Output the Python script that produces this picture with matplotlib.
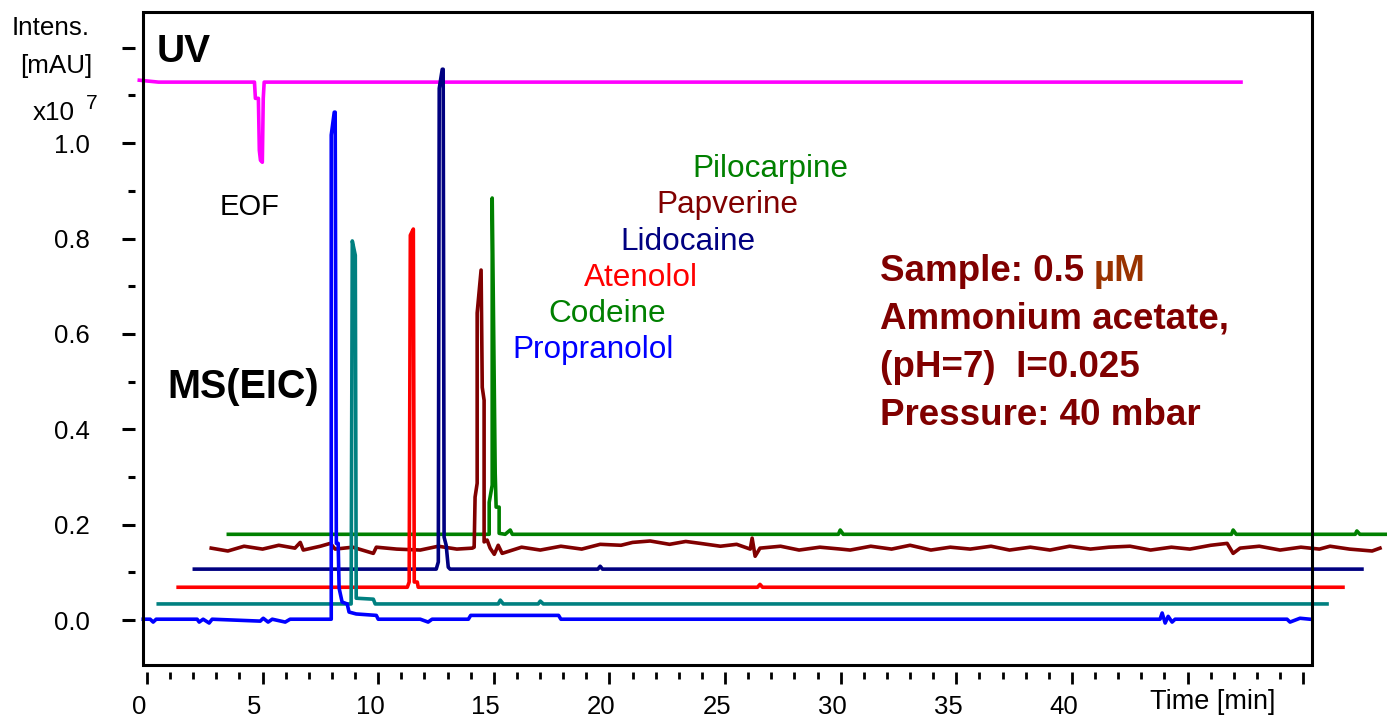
import matplotlib
matplotlib.use("Agg")
import matplotlib.pyplot as plt
from matplotlib.patches import Rectangle
from matplotlib.transforms import ScaledTranslation

W, H, DPI = 1387, 716, 100
plt.rcParams["font.family"] = ["Liberation Sans", "DejaVu Sans"]

# UV trace (intensity scaled to the MS axis, x10^7)
uv_t = [-0.33, 0.50, 4.65, 4.69, 4.82, 4.86, 4.91, 4.99, 5.03, 5.07, 47.31]
uv_i = [1.132, 1.128, 1.128, 1.094, 1.094, 0.985, 0.964, 0.960, 1.094, 1.128, 1.128]

# extracted ion chromatograms, drawn as a waterfall (time in min, intensity x10^7)
propranolol_t = [-0.16, 0.14, 0.27, 0.40, 2.17, 2.26, 2.43, 2.69, 2.82, 4.90, 5.03,
                 5.24, 5.42, 5.98, 6.19, 7.97, 7.97, 8.10, 8.14, 8.19, 8.27, 8.31,
                 8.44, 8.66, 8.74, 9.05, 9.92, 10.00, 11.82, 12.16, 12.33, 13.90,
                 14.00, 17.80, 17.90, 43.81, 43.90, 44.03, 44.16, 44.33, 44.46,
                 49.30, 49.43, 49.86, 50.29]
propranolol_i = [0.002, 0.002, -0.004, 0.002, 0.002, -0.004, 0.002, -0.006, 0.002,
                 -0.002, 0.004, -0.004, 0.002, -0.004, 0.002, 0.002, 1.017, 1.065,
                 1.065, 0.161, 0.161, 0.067, 0.038, 0.034, 0.017, 0.013, 0.010, 0.002,
                 0.002, -0.004, 0.002, 0.002, 0.010, 0.010, 0.002, 0.002, 0.015,
                 -0.006, 0.008, -0.004, 0.002, 0.002, -0.004, 0.004, 0.002]

codeine_t = [0.49, 8.80, 8.83, 8.88, 9.01, 9.05, 9.79, 9.87, 15.19, 15.28, 15.41,
             16.92, 17.01, 17.14, 51.03]
codeine_i = [0.034, 0.034, 0.034, 0.795, 0.765, 0.046, 0.044, 0.034, 0.034, 0.042, 0.034,
             0.034, 0.040, 0.034, 0.034]

atenolol_t = [1.35, 11.26, 11.34, 11.39, 11.52, 11.56, 11.69, 11.73, 26.40, 26.51,
              26.62, 51.72]
atenolol_i = [0.069, 0.069, 0.080, 0.807, 0.820, 0.080, 0.080, 0.069, 0.069, 0.075,
              0.069, 0.069]

lidocaine_t = [2.05, 12.51, 12.60, 12.64, 12.77, 12.81, 12.85, 12.94, 13.03, 13.11,
               19.50, 19.60, 19.70, 52.54]
lidocaine_i = [0.107, 0.107, 0.122, 1.115, 1.155, 1.155, 0.174, 0.157, 0.111, 0.107,
               0.107, 0.113, 0.107, 0.107]

papverine_t = [2.78, 3.5, 4.2, 5.0, 5.7, 6.4, 6.63, 6.76, 7.5, 7.93, 8.14, 8.9, 9.79,
               9.92, 10.8, 11.82, 12.6, 13.4, 14.07,
               14.15, 14.19, 14.28, 14.28, 14.45, 14.50, 14.58, 14.58, 14.71, 14.84,
               15.02, 15.19, 15.36, 16.2, 17.01, 17.9, 18.8, 19.6, 20.5, 21.0, 21.76,
               22.6, 23.3, 23.92, 24.8, 25.5, 26.09, 26.17, 26.30, 26.51, 27.4, 28.2,
               29.1, 30.0, 30.41, 31.3, 32.2, 33.0, 33.9, 34.74, 35.6, 36.5, 37.3, 38.2,
               39.05, 39.9, 40.8, 41.6, 42.51, 43.4, 44.3, 45.1, 46.0, 46.71, 46.97,
               47.27, 48.1, 49.0, 49.9, 50.7, 51.16, 52.0, 52.98, 53.32]
papverine_i = [0.151, 0.145, 0.155, 0.149, 0.157, 0.151, 0.163, 0.147, 0.155, 0.161,
               0.149, 0.153, 0.140, 0.153, 0.149, 0.147, 0.155, 0.149, 0.151,
               0.153, 0.258, 0.287, 0.644, 0.734, 0.488, 0.461, 0.164, 0.168, 0.151,
               0.138, 0.157, 0.140, 0.153, 0.147, 0.155, 0.149, 0.159, 0.157, 0.163,
               0.166, 0.159, 0.165, 0.161, 0.155, 0.159, 0.149, 0.172, 0.134, 0.151,
               0.155, 0.147, 0.153, 0.149, 0.147, 0.155, 0.149, 0.157, 0.147, 0.153,
               0.149, 0.155, 0.147, 0.153, 0.147, 0.155, 0.149, 0.153, 0.155, 0.147,
               0.153, 0.149, 0.157, 0.161, 0.140, 0.151, 0.155, 0.147, 0.153, 0.149,
               0.155, 0.149, 0.145, 0.151]

pilocarpine_t = [3.52, 14.67, 14.80, 14.80, 14.93, 14.93, 15.06, 15.10, 15.23, 15.23,
                 15.49, 15.71, 15.80, 29.90, 29.98, 30.11, 46.90, 46.97, 47.10,
                 52.25, 52.32, 52.45, 53.62]
pilocarpine_i = [0.180, 0.180, 0.180, 0.247, 0.283, 0.885, 0.308, 0.237, 0.237, 0.182,
                 0.180, 0.189, 0.180, 0.180, 0.189, 0.180, 0.180, 0.189, 0.180,
                 0.180, 0.187, 0.180, 0.180]

# back-to-front drawing order
traces = [
    ("Pilocarpine", pilocarpine_t, pilocarpine_i, "#008000"),
    ("Papverine", papverine_t, papverine_i, "#800000"),
    ("Lidocaine", lidocaine_t, lidocaine_i, "#000080"),
    ("Atenolol", atenolol_t, atenolol_i, "#ff0000"),
    ("Codeine", codeine_t, codeine_i, "#008080"),
    ("Propranolol", propranolol_t, propranolol_i, "#0000ff"),
]
label_colors = {"Pilocarpine": "#008000", "Papverine": "#800000", "Lidocaine": "#000080",
                "Atenolol": "#ff0000", "Codeine": "#008000", "Propranolol": "#0000ff"}

x_major = list(range(0, 51, 5))
x_labels = [str(v) for v in range(0, 45, 5)] + ["", ""]
y_major = [0.0, 0.2, 0.4, 0.6, 0.8, 1.0, 1.2]
y_labels = ["0.0", "0.2", "0.4", "0.6", "0.8", "1.0", ""]
y_minor = [0.1, 0.3, 0.5, 0.7, 0.9, 1.1]


def px(x, y):
    return x / W, 1 - y / H


fig = plt.figure(figsize=(W / DPI, H / DPI), dpi=DPI)
ax = fig.add_axes([143 / W, 1 - 665 / H, (1312 - 143) / W, (665 - 12) / H])
ax.set_xlim(-0.17, 50.38)
ax.set_ylim(-0.094, 1.275)

LW = 2.6
ax.plot(uv_t, uv_i, color="#ff00ff", lw=LW, clip_on=False, zorder=2)
for z, (name, t, i, c) in enumerate(traces):
    ax.plot(t, i, color=c, lw=LW, clip_on=False, zorder=3 + z)

for s in ax.spines.values():
    s.set_visible(False)
ax.spines["left"].set_position(("outward", 5.8))
ax.spines["bottom"].set_position(("outward", 5.0))
ax.add_patch(Rectangle((0, 0), 1, 1, transform=ax.transAxes, fill=False,
                       lw=2.2, ec="black", clip_on=False, zorder=20))

ax.set_xticks(x_major, labels=x_labels)
ax.set_xticks(range(0, 51), minor=True)
ax.set_yticks(y_major, labels=y_labels)
ax.set_yticks(y_minor, minor=True)
ax.tick_params(axis="x", which="major", length=8.4, width=2.0, pad=8, labelsize=18.5)
ax.tick_params(axis="x", which="minor", length=4.8, width=2.0)
ax.tick_params(axis="y", which="major", length=9.6, width=2.2, pad=23, labelsize=18.5)
ax.tick_params(axis="y", which="minor", length=5.3, width=2.2)
shift = ScaledTranslation(-8 / DPI, 0, fig.dpi_scale_trans)
for lab in ax.get_xticklabels():
    lab.set_transform(lab.get_transform() + shift)

# axis captions
fig.text(*px(12, 35), "Intens.", fontsize=18.7, va="baseline")
fig.text(*px(20, 73), "[mAU]", fontsize=18.7, va="baseline")
fig.text(*px(33, 120), "x10", fontsize=18.7, va="baseline")
fig.text(*px(86, 109), "7", fontsize=15, va="baseline")
fig.text(*px(1150, 709), "Time [min]", fontsize=19.5, va="baseline")

fig.text(*px(157, 62), "UV", fontsize=28, fontweight="bold", va="baseline")
fig.text(*px(220, 215), "EOF", fontsize=21, va="baseline")
fig.text(*px(167, 398), "MS(EIC)", fontsize=28.5, fontweight="bold", va="baseline")

# compound names, stacked like the traces
name_pos = {"Pilocarpine": (692, 177), "Papverine": (656, 213), "Lidocaine": (620, 250),
            "Atenolol": (584, 286), "Codeine": (548, 322), "Propranolol": (512, 358)}
for name, (x, y) in name_pos.items():
    fig.text(*px(x, y), name, fontsize=22.7, color=label_colors[name], va="baseline")

# run conditions
dark_red = "#800000"
cond = dict(fontsize=26.5, fontweight="bold", color=dark_red, va="baseline")
first = fig.text(*px(880, 281), "Sample: 0.5", **cond)
fig.text(*px(880, 329), "Ammonium acetate,", **cond)
fig.text(*px(880, 377), "(pH=7)  I=0.025", **cond)
fig.text(*px(880, 425), "Pressure: 40 mbar", **cond)
ax.annotate("µM", xy=(1, 0), xycoords=first, xytext=(7, 0), textcoords="offset points",
            fontsize=26.5, fontweight="bold", color="#993300", ha="left", va="bottom",
            annotation_clip=False)

fig.savefig("out.png", dpi=DPI)
